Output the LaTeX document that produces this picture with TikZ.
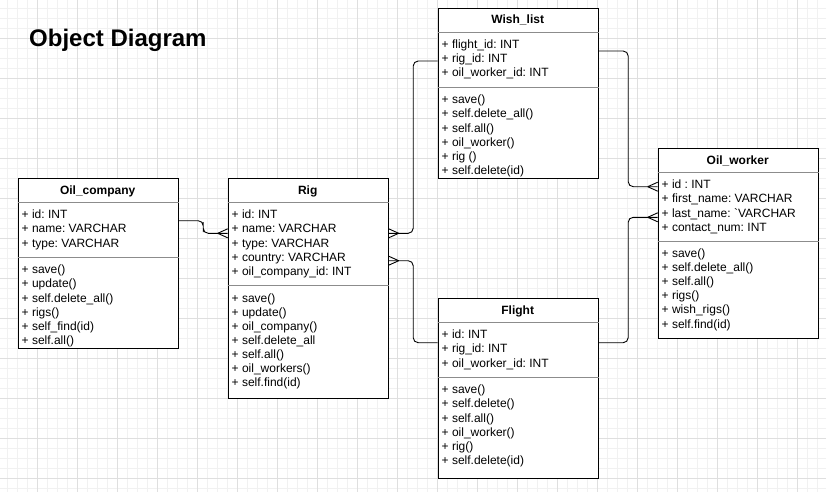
\documentclass[tikz,border=0pt]{standalone}
\usepackage{fontspec}
\setmainfont{Liberation Sans}[Ligatures=TeXOff]
\usetikzlibrary{calc}
\definecolor{gminor}{HTML}{F1F1F1}
\definecolor{gmajor}{HTML}{DFDFDF}
\definecolor{sepgray}{HTML}{8C8C8C}
\tikzset{
  umlbox/.style={draw=black, line width=1pt, fill=white, rectangle, anchor=north west, inner sep=0pt, minimum width=160pt},
  sepline/.style={draw=sepgray, line width=0.9pt},
  conn/.style={draw=black, line width=0.9pt, rounded corners=5pt},
  crow/.style={draw=black, line width=0.9pt},
  head/.style={font=\bfseries\fontsize{12}{14}\selectfont, anchor=base, inner sep=0pt},
  items/.style={font=\fontsize{12}{14.1}\selectfont\frenchspacing, anchor=base west, inner sep=0pt},
  minorline/.style={draw=gminor, line width=0.8pt},
  majorline/.style={draw=gmajor, line width=0.8pt},
}
\newcommand{\itemlist}[1]{\parbox[t]{150pt}{\raggedright\frenchspacing #1}}
\begin{document}
\begin{tikzpicture}[x=1pt, y=-1pt]
\useasboundingbox (0,0) rectangle (826,492);
\fill[white] (0,0) rectangle (826,492);
% grid
\foreach \i in {0,...,81} {\draw[minorline] ({7.7+10*\i},0) -- ({7.7+10*\i},492);}
\foreach \i in {0,...,48} {\draw[minorline] (0,{8.3+10*\i}) -- (826,{8.3+10*\i});}
\foreach \i in {0,...,19} {\draw[majorline] ({37.7+40*\i},0) -- ({37.7+40*\i},492);}
\foreach \i in {0,...,11} {\draw[majorline] (0,{38.3+40*\i}) -- (826,{38.3+40*\i});}

% title
\node[anchor=base west, inner sep=0pt, font=\bfseries\fontsize{24}{28}\selectfont] (title) at (29,47) {Object Diagram};

% Oil_company
\node[umlbox, minimum height=170pt] (oilc) at (17.7,178.3) {};
\draw[sepline] ([yshift=-24pt]oilc.north west) -- ([yshift=-24pt]oilc.north east);
\draw[sepline] ([yshift=-79pt]oilc.north west) -- ([yshift=-79pt]oilc.north east);
\node[head] (oilct) at (97.7,194) {Oil\_company};
\node[items] (oilca) at (21.5,218.8) {\itemlist{+ id: INT\\+ name: VARCHAR\\+ type: VARCHAR}};
\node[items] (oilcm) at (21.5,273.8) {\itemlist{+ save()\\+ update()\\+ self.delete\_all()\\+ rigs()\\+ self\_find(id)\\+ self.all()}};

% Rig
\node[umlbox, minimum height=220pt] (rig) at (227.7,178.3) {};
\draw[sepline] ([yshift=-24pt]rig.north west) -- ([yshift=-24pt]rig.north east);
\draw[sepline] ([yshift=-107.4pt]rig.north west) -- ([yshift=-107.4pt]rig.north east);
\node[head] (rigt) at (307.7,194) {Rig};
\node[items] (riga) at (231.5,218.8) {\itemlist{+ id: INT\\+ name: VARCHAR\\+ type: VARCHAR\\+ country: VARCHAR\\+ oil\_company\_id: INT}};
\node[items] (rigm) at (231.5,302.2) {\itemlist{+ save()\\+ update()\\+ oil\_company()\\+ self.delete\_all\\+ self.all()\\+ oil\_workers()\\+ self.find(id)}};

% Wish_list
\node[umlbox, minimum height=170pt] (wish) at (437.7,8.3) {};
\draw[sepline] ([yshift=-24pt]wish.north west) -- ([yshift=-24pt]wish.north east);
\draw[sepline] ([yshift=-79pt]wish.north west) -- ([yshift=-79pt]wish.north east);
\node[head] (wisht) at (517.7,24) {Wish\_list};
\node[items] (wisha) at (441.5,48.8) {\itemlist{+ flight\_id: INT\\+ rig\_id: INT\\+ oil\_worker\_id: INT}};
\node[items] (wishm) at (441.5,103.8) {\itemlist{+ save()\\+ self.delete\_all()\\+ self.all()\\+ oil\_worker()\\+ rig ()\\+ self.delete(id)}};

% Flight
\node[umlbox, minimum height=180pt] (flight) at (437.7,298.3) {};
\draw[sepline] ([yshift=-24pt]flight.north west) -- ([yshift=-24pt]flight.north east);
\draw[sepline] ([yshift=-79pt]flight.north west) -- ([yshift=-79pt]flight.north east);
\node[head] (flightt) at (517.7,314) {Flight};
\node[items] (flighta) at (441.5,338.8) {\itemlist{+ id: INT\\+ rig\_id: INT\\+ oil\_worker\_id: INT}};
\node[items] (flightm) at (441.5,393.8) {\itemlist{+ save()\\+ self.delete()\\+ self.all()\\+ oil\_worker()\\+ rig()\\+ self.delete(id)}};

% Oil_worker
\node[umlbox, minimum height=190pt] (ow) at (657.7,148.3) {};
\draw[sepline] ([yshift=-24pt]ow.north west) -- ([yshift=-24pt]ow.north east);
\draw[sepline] ([yshift=-92.7pt]ow.north west) -- ([yshift=-92.7pt]ow.north east);
\node[head] (owt) at (737.7,164) {Oil\_worker};
\node[items] (owa) at (661.5,188.8) {\itemlist{+ id : INT\\+ first\_name: VARCHAR\\+ last\_name: `VARCHAR\\+ contact\_num: INT}};
\node[items] (owm) at (661.5,257.5) {\itemlist{+ save()\\+ self.delete\_all()\\+ self.all()\\+ rigs()\\+ wish\_rigs()\\+ self.find(id)}};

% connector endpoints
\coordinate (c1a) at ([yshift=-42.4pt]oilc.north east);
\coordinate (c1b) at ([yshift=-55pt]rig.north west);
\coordinate (c2a) at ([yshift=-55pt]rig.north east);
\coordinate (c2b) at ([yshift=-52.7pt]wish.north west);
\coordinate (c3a) at ([yshift=-82.4pt]rig.north east);
\coordinate (c3b) at ([yshift=-44.4pt]flight.north west);
\coordinate (c4a) at ([yshift=-42.7pt]wish.north east);
\coordinate (c4b) at ([yshift=-38.4pt]ow.north west);
\coordinate (c5a) at ([yshift=-44.4pt]flight.north east);
\coordinate (c5b) at ([yshift=-69pt]ow.north west);

% connectors
\draw[conn] (c1a) -| ($(c1a)!.5!(c1b)$) |- (c1b);
\draw[conn] (c2a) -| ($(c2a)!.5!(c2b)$) |- (c2b);
\draw[conn] (c3a) -| ($(c3a)!.5!(c3b)$) |- (c3b);
\draw[conn] (c4a) -| ($(c4a)!.5!(c4b)$) |- (c4b);
\draw[conn] (c5a) -| ($(c5a)!.5!(c5b)$) |- (c5b);

% crow's feet
\draw[crow] ([xshift=-10pt]c1b) -- ([yshift=4.5pt]c1b) ([xshift=-10pt]c1b) -- ([yshift=-4.5pt]c1b);
\draw[crow] ([xshift=10pt]c2a) -- ([yshift=4.5pt]c2a) ([xshift=10pt]c2a) -- ([yshift=-4.5pt]c2a);
\draw[crow] ([xshift=10pt]c3a) -- ([yshift=4.5pt]c3a) ([xshift=10pt]c3a) -- ([yshift=-4.5pt]c3a);
\draw[crow] ([xshift=-10pt]c4b) -- ([yshift=4.5pt]c4b) ([xshift=-10pt]c4b) -- ([yshift=-4.5pt]c4b);
\draw[crow] ([xshift=-10pt]c5b) -- ([yshift=4.5pt]c5b) ([xshift=-10pt]c5b) -- ([yshift=-4.5pt]c5b);
\end{tikzpicture}
\end{document}
